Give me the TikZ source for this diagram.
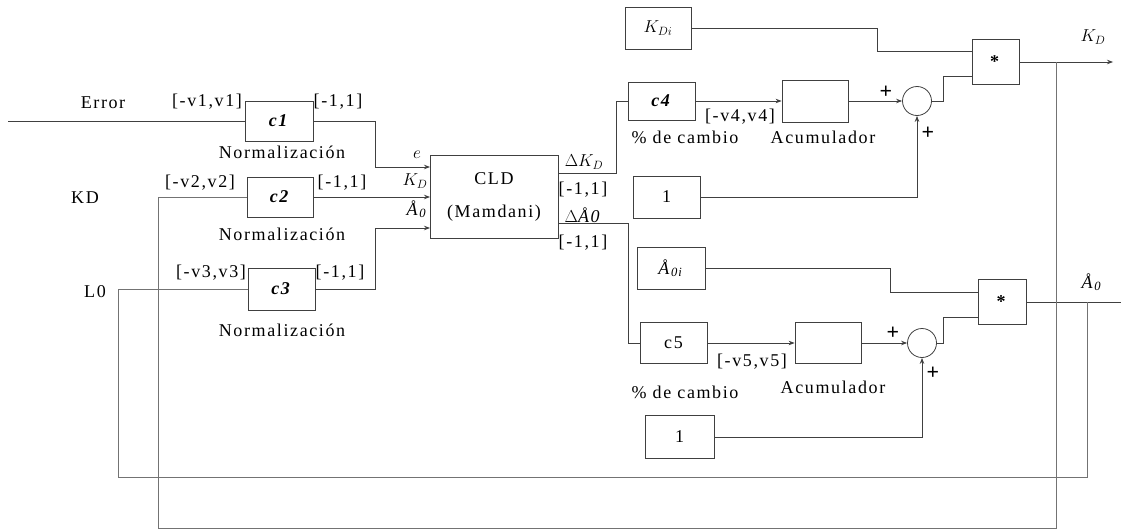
\documentclass[tikz,border=0pt]{standalone}
\usepackage{fontspec}
\setmainfont[LetterSpace=9]{Liberation Serif}
\usetikzlibrary{arrows.meta,calc}
\begin{document}
\begin{tikzpicture}[x=1pt,y=-1pt,
  font=\fontsize{18}{21}\selectfont,
  blk/.style 2 args={draw=black!75,line width=0.8pt,inner sep=0pt,minimum width=#1pt,minimum height=#2pt},
  circ/.style={draw=black!75,line width=0.8pt,circle,inner sep=0pt,minimum size=29pt},
  ln/.style={draw=black!75,line width=0.8pt},
  fb/.style={draw=black!55,line width=0.7pt},
  arr/.style={-{Stealth[length=6pt,width=4.5pt]}},
  lbl/.style={inner sep=0pt},
  plus/.style={inner sep=0pt,font=\fontsize{22}{24}\selectfont\bfseries}]
\useasboundingbox (0,0) rectangle (1121,530);

% blocks
\node[blk={68}{40}] (c1) at (279,121) {\textbf{\textit{c1}}};
\node[blk={66}{40}] (c2) at (280,197) {\textbf{\textit{c2}}};
\node[blk={67}{42}] (c3) at (281.5,289) {\textbf{\textit{c3}}};
\node[blk={128}{83},align=center] (cld) at (494,196.5) {CLD\\[12pt](Mamdani)};
\node[blk={66}{42}] (kdi) at (658,28) {$K_{Di}$};
\node[blk={67}{38}] (c4) at (661.5,101) {\textbf{\textit{c4}}};
\node[blk={66}{42}] (acc1) at (815,101) {};
\node[circ] (s1) at (917,101) {};
\node[blk={67}{42}] (one1) at (666.5,197) {1};
\node[blk={47}{45}] (m1) at (995.5,62) {\textbf{*}};
\node[blk={68}{42}] (a0i) at (671,268) {\textit{Å}\textsubscript{\textit{0i}}};
\node[blk={67}{41}] (c5) at (673.5,343) {c5};
\node[blk={66}{41}] (acc2) at (828,343) {};
\node[circ] (s2) at (922,343) {};
\node[blk={48}{45}] (m2) at (1002,302) {\textbf{*}};
\node[blk={69}{43}] (one2) at (679.5,437) {1};

% coordinates
\coordinate (errin) at (8,121);
\coordinate (cin1) at (430,167);
\coordinate (cin2) at (430,197);
\coordinate (cin3) at (430,228);
\coordinate (cout1) at (558,173);
\coordinate (cout2) at (558,223);
\coordinate (m1in1) at (972,51);
\coordinate (m1in2) at (972,76);
\coordinate (m2in1) at (978,292);
\coordinate (m2in2) at (978,317);
\coordinate (kdsplit) at (1056,62);
\coordinate (kdend) at (1113,62);
\coordinate (a0split) at (1087,302);
\coordinate (a0end) at (1121,302);

% left side connectors
\draw[ln] (errin) -- (c1.west);
\draw[ln,arr] (c1.east) -| ($(cin1)+(-55,0)$) -- (cin1);
\draw[ln,arr] (c2.east) -- (cin2);
\draw[ln,arr] (c3.east) -| ($(cin3)+(-55,0)$) -- (cin3);

% CLD outputs
\draw[ln] (cout1) -- ($(cout1)+(58,0)$) |- (c4.west);
\draw[ln] (cout2) -- ($(cout2)+(70,0)$) |- (c5.west);

% upper chain
\draw[ln,arr] (c4.east) -- (acc1.west);
\draw[ln,arr] (acc1.east) -- (s1.west);
\draw[ln,arr] (one1.east) -| (s1.south);
\draw[ln] (s1.east) -| ($(m1in2)+(-29,10)$) |- (m1in2);
\draw[ln] (kdi.east) -| ($(m1in1)+(-95,-10)$) |- (m1in1);
\draw[ln,arr] (m1.east) -- (kdend);

% lower chain
\draw[ln,arr] (c5.east) -- (acc2.west);
\draw[ln,arr] (acc2.east) -- (s2.west);
\draw[ln,arr] (one2.east) -| (s2.south);
\draw[ln] (s2.east) -| ($(m2in2)+(-35,10)$) |- (m2in2);
\draw[ln] (a0i.east) -| ($(m2in1)+(-88,-10)$) |- (m2in1);
\draw[ln] (m2.east) -- (a0end);

% feedback lines
\draw[fb] (kdsplit) -- (1056,528) -- (158,528) -- (158,197) -- (c2.west);
\draw[fb] (a0split) -- (1087,477) -- (118,477) -- (118,289) -- (c3.west);

% labels
\node[lbl] (tError) at (103,103) {Error};
\node[lbl] (tKD) at (85,198) {KD};
\node[lbl] (tL0) at (95,292) {L0};
\node[lbl] (r1a) at (207,102) {[-v1,v1]};
\node[lbl] (r1b) at (338,102) {[-1,1]};
\node[lbl] (n1) at (282,152) {Normalización};
\node[lbl] (r2a) at (200,183) {[-v2,v2]};
\node[lbl] (r2b) at (342,183) {[-1,1]};
\node[lbl] (n2) at (282,234) {Normalización};
\node[lbl] (r3a) at (211,273) {[-v3,v3]};
\node[lbl] (r3b) at (340,273) {[-1,1]};
\node[lbl] (n3) at (282,330) {Normalización};
\node[lbl] (le) at (417,155) {$e$};
\node[lbl] (lkd) at (415,181) {$K_D$};
\node[lbl] (la0) at (417,209) {\textit{Å}\textsubscript{\textit{0}}};
\node[lbl] (ldk) at (584,162) {$\Delta K_D$};
\node[lbl] (lr1) at (583,190) {[-1,1]};
\node[lbl] (lda) at (583,215) {$\Delta$\textit{Å0}};
\node[lbl] (lr2) at (583,243) {[-1,1]};
\node[lbl] (v4) at (740,117) {[-v4,v4]};
\node[lbl] (pc1) at (685,137) {\% de cambio};
\node[lbl] (ac1) at (823,137) {Acumulador};
\node[lbl] (v5) at (752,362) {[-v5,v5]};
\node[lbl] (pc2) at (685,392) {\% de cambio};
\node[lbl] (ac2) at (833,387) {Acumulador};
\node[plus] (p1) at (886,92) {+};
\node[plus] (p2) at (928,133) {+};
\node[plus] (p3) at (893,333) {+};
\node[plus] (p4) at (933,373) {+};
\node[lbl] (okd) at (1093,37) {$K_D$};
\node[lbl] (oa0) at (1092,282) {\textit{Å}\textsubscript{\textit{0}}};
\end{tikzpicture}
\end{document}
